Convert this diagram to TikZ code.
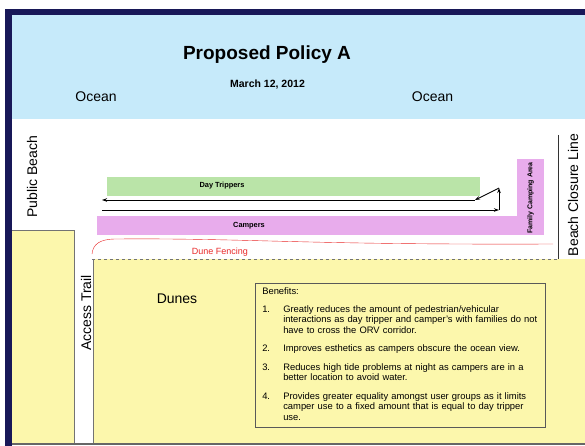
\documentclass[tikz,border=0pt]{standalone}
\usepackage{fontspec}
\setmainfont{Liberation Sans}
\usepackage{tikz}
\usetikzlibrary{positioning,arrows.meta}
\definecolor{oceanblue}{RGB}{198,234,250}
\definecolor{framenavy}{RGB}{24,24,88}
\definecolor{tripgreen}{RGB}{186,228,168}
\definecolor{camppink}{RGB}{232,172,236}
\definecolor{duneyellow}{RGB}{252,247,172}
\definecolor{fencered}{RGB}{232,40,40}
\newcommand{\txtsize}[1]{\fontsize{#1}{1.2\dimexpr#1pt\relax}\selectfont}

\begin{document}
\begin{tikzpicture}[x=1pt,y=-1pt,
    lbl/.style={inner sep=0pt, font=\txtsize{14}},
    barlbl/.style={inner sep=0pt, font=\txtsize{7.4}\bfseries},
    route/.style={line width=0.9pt, -{Stealth[length=5pt,width=3.5pt]}},
    edge/.style={draw=black!55, line width=0.6pt}]
  \useasboundingbox (0,0) rectangle (585,446);

  % sea, beach and dunes
  \fill[oceanblue] (12,15) rectangle (585,119);
  \fill[duneyellow] (12,230) rectangle (74,443);
  \fill[duneyellow] (93,259) rectangle (585,443);
  \draw[edge] (12,230) -- (74,230) -- (74,443);
  \draw[edge] (93,443) -- (93,259);
  \draw[edge, dashed] (92,259) -- (558,259);
  \draw[black!60, line width=2pt] (12,444) -- (585,444);
  \fill[framenavy] (5,9) rectangle (585,15);
  \fill[framenavy] (5,9) rectangle (12,446);

  % zones
  \fill[tripgreen] (107,177) rectangle (480,196);
  \fill[camppink] (97,216) rectangle (544,235);
  \fill[camppink] (517,159) rectangle (544,235);
  \draw[fencered, line width=0.4pt] (92,254) .. controls (93,244) and (100,239) .. (116,239)
      .. controls (250,238) and (300,245) .. (553,244);
  \draw[black!80, line width=0.6pt] (558,135) -- (558,259);

  \node[inner sep=0pt, anchor=base, font=\txtsize{19}\bfseries] (title) at (267,60) {Proposed Policy A};
  \node[inner sep=0pt, anchor=base, font=\txtsize{10.5}\bfseries] (date) at (267.5,88) {March 12, 2012};
  \node[lbl, anchor=base] (oceanW) at (96,102) {Ocean};
  \node[lbl, anchor=base] (oceanE) at (432.5,102) {Ocean};
  \node[lbl, rotate=90] (public) at (32,176.5) {Public Beach};
  \node[lbl, rotate=90] (closure) at (573,195) {Beach Closure Line};
  \node[lbl, rotate=90] (access) at (86,313) {Access Trail};
  \node[lbl, anchor=base] (dunes) at (177,303) {Dunes};
  \node[barlbl] (trippers) at (222,186) {Day Trippers};
  \node[barlbl] (campers) at (249,225.5) {Campers};
  \node[barlbl, font=\txtsize{7}\bfseries, rotate=90] (family) at (530.5,198) {Family Camping Area};
  \node[inner sep=0pt, text=fencered, font=\txtsize{9}] (fencing) at (220,252) {Dune Fencing};

  \coordinate (loopSW) at (102,210);
  \coordinate (loopSE) at (499,210);
  \coordinate (loopNE) at (499,188);
  \coordinate (loopNW) at (475,200);
  \coordinate (loopEnd) at (102,200);
  \draw[route] (loopSW) -- (loopSE);
  \draw[route] (loopSE) -- (loopNE);
  \draw[route] (loopNE) -- (loopNW);
  \draw[route] (loopNW) -- (loopEnd);

  \node[draw=black!65, fill=duneyellow, line width=0.5pt, anchor=north west,
        text width=276pt, minimum height=144pt, inner xsep=7pt, inner ysep=0pt,
        align=left, font=\fontsize{9.4}{10.5}\selectfont] (benefits) at (255,283) {%
    \begin{tabular}{@{}p{21pt}@{}l@{}}
      \multicolumn{2}{@{}l@{}}{Benefits:}\\[7.5pt]
      1. & Greatly reduces the amount of pedestrian/vehicular\\
         & interactions as day tripper and camper's with families do not\\
         & have to cross the ORV corridor.\\[8pt]
      2. & Improves esthetics as campers obscure the ocean view.\\[8pt]
      3. & Reduces high tide problems at night as campers are in a\\
         & better location to avoid water.\\[8pt]
      4. & Provides greater equality amongst user groups as it limits\\
         & camper use to a fixed amount that is equal to day tripper\\
         & use.
    \end{tabular}};
\end{tikzpicture}
\end{document}
